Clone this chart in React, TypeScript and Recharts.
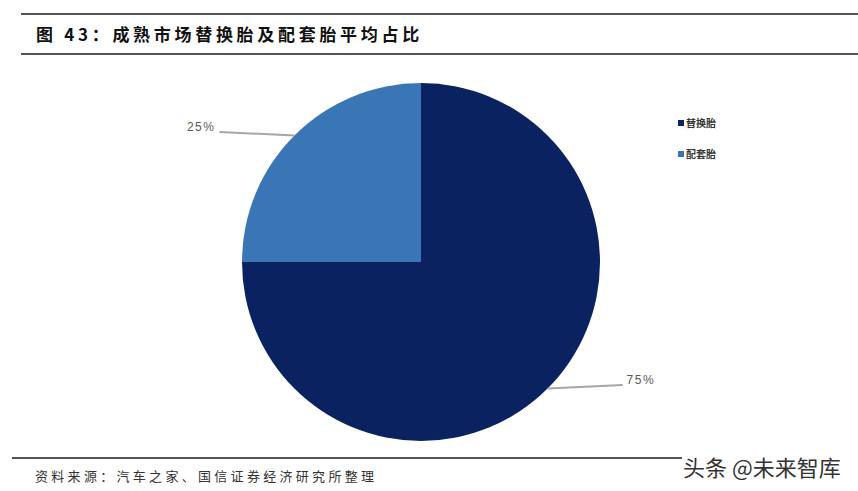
import { PieChart, Pie, Cell, Legend } from 'recharts';

const categories = ['替换胎', '配套胎'];
const shares = [75, 25];
const colors = ['#0a2260', '#3a76b6'];

const chartData = categories.map((name, i) => ({ name, value: shares[i] }));

const RADIAN = Math.PI / 180;

// leader line runs almost horizontally from the pie edge out to the label
const renderLabel = ({ cx, cy, outerRadius, midAngle, value }: any) => {
  const dy = -Math.sin(midAngle * RADIAN) * outerRadius;
  const side = Math.cos(midAngle * RADIAN) >= 0 ? 1 : -1;
  const edgeX = cx + side * Math.sqrt(outerRadius * outerRadius - dy * dy);
  const endX = edgeX + side * 75;
  const y = cy + dy;
  const endY = y - 3.5;
  return (
    <g>
      <line x1={edgeX} y1={y} x2={endX} y2={endY} stroke="#a6a6a6" strokeWidth={2} />
      <text
        x={endX + side * 4}
        y={endY - 5}
        textAnchor={side > 0 ? 'start' : 'end'}
        dominantBaseline="central"
        fill="#595959"
        style={{ fontSize: '12px', letterSpacing: '1.5px', fontFamily: 'Liberation Sans, Arial, sans-serif' }}
      >
        {value}%
      </text>
    </g>
  );
};

const LegendContent = () => (
  <div>
    {categories.map((c, i) => (
      <div key={c} style={{ display: 'flex', alignItems: 'center', height: 31 }}>
        <span style={{ width: 6, height: 6, background: colors[i], marginRight: 2 }} />
        <span style={{ fontSize: '10px', fontWeight: 'bold', color: '#333', fontFamily: '"Noto Sans CJK SC", sans-serif' }}>{c}</span>
      </div>
    ))}
  </div>
);

export default function App() {
  const cjk = '"Noto Sans CJK SC", sans-serif';
  return (
    <div style={{ position: 'fixed', left: 0, top: 0, width: 858, height: 491, background: '#fff', overflow: 'hidden' }}>
      <div style={{ position: 'absolute', left: 21, right: 0, top: 13, height: 2, background: '#555' }} />
      <div style={{ position: 'absolute', left: 36, top: 21, fontSize: '17px', fontWeight: 'bold', color: '#111', fontFamily: cjk, letterSpacing: '3.7px', lineHeight: '26px' }}>
        图 43：成熟市场替换胎及配套胎平均占比
      </div>
      <div style={{ position: 'absolute', left: 21, right: 0, top: 53, height: 2, background: '#555' }} />

      <div style={{ position: 'absolute', left: 0, top: 0 }}>
        <PieChart width={858} height={491} margin={{ top: 0, right: 0, bottom: 0, left: 0 }}>
          <Pie
            data={chartData}
            dataKey="value"
            nameKey="name"
            cx={421}
            cy={262}
            outerRadius={179}
            startAngle={90}
            endAngle={-270}
            stroke="none"
            label={renderLabel}
            labelLine={false}
            isAnimationActive={false}
          >
            {chartData.map((d, i) => (
              <Cell key={d.name} fill={colors[i]} />
            ))}
          </Pie>
          <Legend
            layout="vertical"
            content={<LegendContent />}
            wrapperStyle={{ left: 678, top: 107, width: 80 }}
          />
        </PieChart>
      </div>

      <div style={{ position: 'absolute', left: 12, width: 670, top: 457, height: 1.5, background: '#555' }} />
      <div style={{ position: 'absolute', left: 35, top: 467, fontSize: '13px', color: '#333', fontFamily: cjk, letterSpacing: '3.3px', lineHeight: '18px' }}>
        资料来源：汽车之家、国信证券经济研究所整理
      </div>
      <div style={{ position: 'absolute', left: 683, top: 451, fontSize: '22px', color: '#333', fontFamily: cjk, lineHeight: '30px', textShadow: '0 0 2px #fff, 0 0 2px #fff' }}>
        头条 @未来智库
      </div>
    </div>
  );
}
